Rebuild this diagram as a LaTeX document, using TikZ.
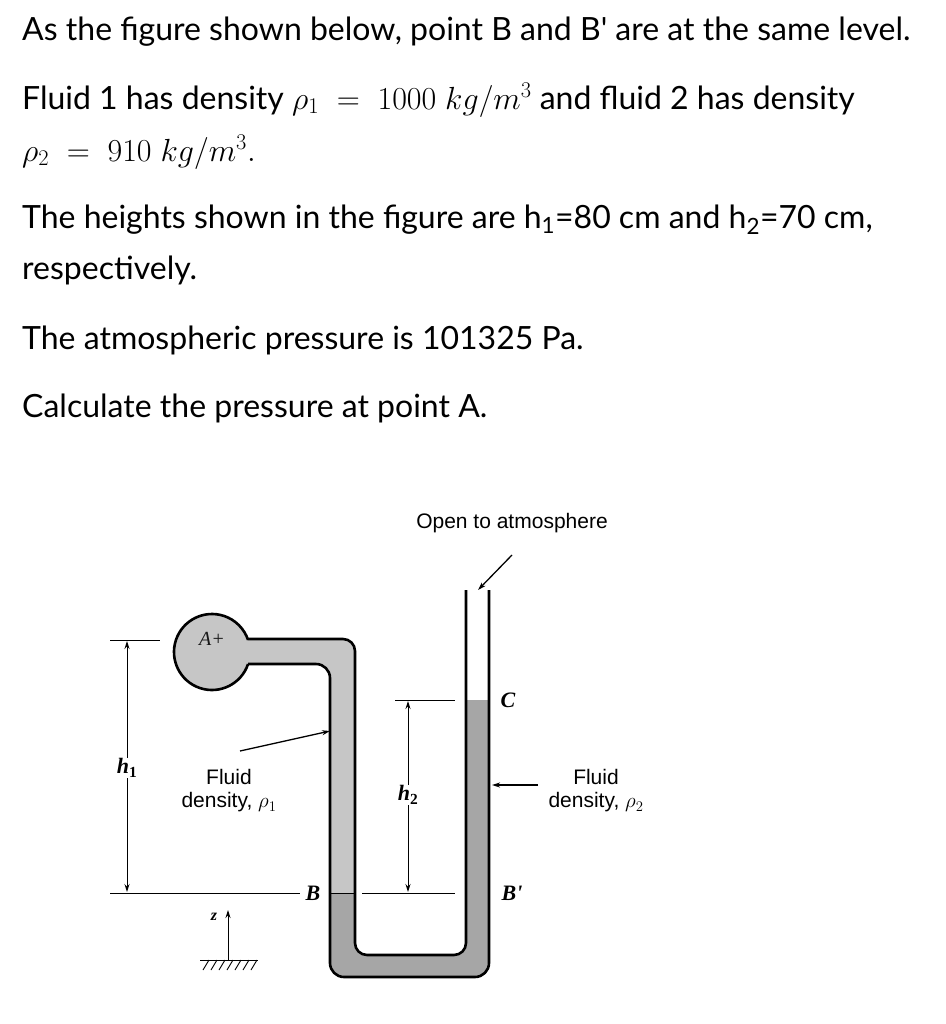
\RequirePackage{fix-cm}
\documentclass[tikz,border=0pt]{standalone}
\usepackage{fontspec}
\setmainfont{Lato}
\newfontfamily\dfont{Liberation Sans}
\newfontfamily\sfont{Liberation Serif}
\usetikzlibrary{arrows.meta}
\begin{document}
\begin{tikzpicture}[x=1pt,y=-1pt,
  txt/.style={anchor=west,inner sep=0pt,font=\fontsize{32}{36}\selectfont},
  lbl/.style={inner sep=1pt,font=\dfont\fontsize{21}{23}\selectfont,align=center},
  pt/.style={inner sep=1pt,font=\sfont\bfseries\itshape\fontsize{22}{24}\selectfont},
  wall/.style={line width=2.6pt,line join=round},
  thin/.style={line width=0.9pt},
  dim/.style={thin,-{Stealth[length=8pt,width=5pt]}},
  fl1/.style={fill=gray!45},
  fl2/.style={fill=gray!70}]
\useasboundingbox (0,0) rectangle (945,1024);
\node[txt] (t1) at (22,32) {As the figure shown below, point B and B\textquotesingle{} are at the same level.};
\node[txt] (t2) at (22,100) {Fluid 1 has density $\rho_1\;=\;1000\;kg/m^3$ and fluid 2 has density};
\node[txt] (t3) at (22,152) {$\rho_2\;=\;910\;kg/m^3.$};
\node[txt] (t4) at (22,220) {The heights shown in the figure are h\textsubscript{1}=80 cm and h\textsubscript{2}=70 cm,};
\node[txt] (t5) at (22,270) {respectively.};
\node[txt] (t6) at (22,340) {The atmospheric pressure is 101325 Pa.};
\node[txt] (t7) at (22,408) {Calculate the pressure at point A.};
% fluids
\fill[fl1] (212,652) circle (38);
\fill[fl1,rounded corners=12pt] (240,639) -- (355,639) -- (355,893) -- (330,893) -- (330,664) -- (240,664) -- cycle;
\fill[fl1] (240,639) rectangle (300,664);
\fill[fl1] (330,700) rectangle (355,893);
\fill[fl2] (466,700) rectangle (489,910);
\fill[fl2] (330,893) rectangle (355,910);
\fill[fl2,rounded corners=12pt] (330,900) -- (330,977) -- (489,977) -- (489,900) -- (466,900) -- (466,955) -- (355,955) -- (355,900) -- cycle;
\draw[thin] (330,893) -- (355,893);
% walls
\draw[wall] (212,652) ++(18.5:38) arc (18.5:341.5:38);
\draw[wall,rounded corners=12pt] (248,639) -- (355,639) -- (355,955) -- (466,955) -- (466,590);
\draw[wall,rounded corners=14pt] (248,664) -- (330,664) -- (330,977) -- (489,977) -- (489,590);
\node[font=\sfont\itshape\fontsize{20}{22}\selectfont,text=gray!20!black] (A) at (212,639) {A+};
% h1
\draw[thin] (110,640) -- (160,640);
\draw[thin] (110,893) -- (300,893);
\node[font=\sfont\bfseries\itshape\fontsize{22}{24}\selectfont,fill=white,inner sep=1pt] (h1) at (127,768) {h\textsubscript{\upshape 1}};
\draw[dim] (h1.north) -- (127,641);
\draw[dim] (h1.south) -- (127,892);
\node[pt] (B) at (313,893) {B};
% h2
\draw[thin] (395,700) -- (455,700);
\draw[thin] (362,893) -- (455,893);
\node[font=\sfont\bfseries\itshape\fontsize{22}{24}\selectfont,fill=white,inner sep=1pt] (h2) at (408,795) {h\textsubscript{\upshape 2}};
\draw[dim] (h2.north) -- (408,701);
\draw[dim] (h2.south) -- (408,892);
\node[pt] (C) at (508,700) {C};
\node[pt] (Bp) at (512,893) {B'};
% z
\coordinate (zb) at (228,960);
\coordinate (zt) at (228,910);
\draw[dim] (zb) -- (zt);
\node[pt,font=\sfont\bfseries\itshape\fontsize{16}{18}\selectfont] (z) at (214,917) {z};
\draw[thin] (200,960) -- (258,960);
\foreach \i in {0,...,6} \draw[thin] (203+8*\i,970) -- (209+8*\i,960);
% labels
\node[lbl] (atm) at (512,523) {Open to atmosphere};
\coordinate (atmT) at (478,590);
\draw[dim,line width=1.3pt] (512,555) -- (atmT);
\node[lbl] (f1) at (229,791) {Fluid\\density, $\rho_1$};
\coordinate (f1T) at (330,731);
\draw[dim,line width=1.3pt] (240,751) -- (f1T);
\node[lbl] (f2) at (596,791) {Fluid\\density, $\rho_2$};
\coordinate (f2T) at (492,785);
\draw[dim,line width=1.3pt] (538,785) -- (f2T);
\end{tikzpicture}
\end{document}
